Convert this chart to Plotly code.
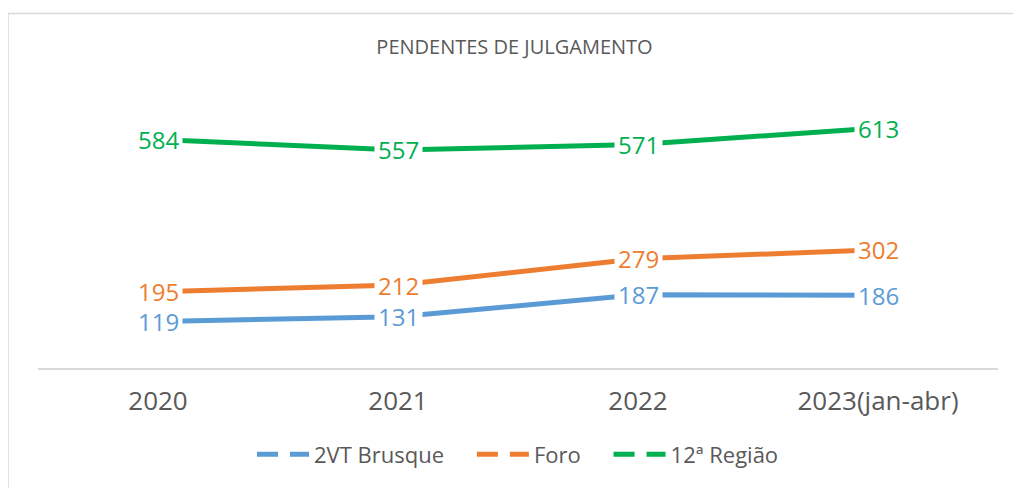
import plotly.graph_objects as go

categories = ["2020", "2021", "2022", "2023(jan-abr)"]
brusque = [119, 131, 187, 186]
foro = [195, 212, 279, 302]
regiao = [584, 557, 571, 613]

series_names = ["2VT Brusque", "Foro", "12ª Região"]
series_values = [brusque, foro, regiao]
series_colors = ["#5B9BD5", "#ED7D31", "#00B050"]

FONT = "Open Sans"
GRAY = "#595959"
NBSP = "\u00a0"

W, H = 1013, 480
L, R, T, B = 30, 23, 86, 118
PW, PH = W - L - R, H - T - B

fig = go.Figure()

for k, (name, vals, col) in enumerate(zip(series_names, series_values, series_colors)):
    fig.add_trace(go.Scatter(x=categories, y=vals, mode="lines", name=name,
                             line=dict(color=col, width=5), showlegend=False,
                             hoverinfo="x+y"))
    pad = NBSP * 4 if k < len(series_names) - 1 else ""
    fig.add_trace(go.Scatter(x=[None], y=[None], mode="lines", name=name + pad,
                             line=dict(color=col, width=5, dash="21px,12px"),
                             showlegend=True))

annotations = []
for vals, col in zip(series_values, series_colors):
    for i, v in enumerate(vals):
        annotations.append(dict(x=i, y=v, xref="x", yref="y", text=str(v),
                                showarrow=False, bgcolor="white", borderpad=3,
                                font=dict(family=FONT, size=24, color=col)))

fig.update_layout(
    width=W, height=H,
    margin=dict(l=L, r=R, t=T, b=B),
    paper_bgcolor="white", plot_bgcolor="white",
    title=dict(text="PENDENTES DE JULGAMENTO", x=0.5, xanchor="center",
               y=1 - 39 / H, yanchor="middle",
               font=dict(family=FONT, size=20, color=GRAY)),
    xaxis=dict(type="category", range=[-0.5, 3.5], showgrid=False, zeroline=False,
               showline=True, linecolor="#D9D9D9", linewidth=1.5, ticks="",
               ticklabelstandoff=9,
               tickfont=dict(family=FONT, size=26, color=GRAY)),
    yaxis=dict(range=[0, 700], visible=False, showgrid=False, zeroline=False),
    legend=dict(orientation="h", x=0.5, xanchor="center", y=-(449 - (H - B)) / PH,
                yanchor="middle",
                font=dict(family=FONT, size=22, color=GRAY), itemwidth=52,
                traceorder="normal"),
    annotations=annotations,
    shapes=[dict(type="rect", xref="paper", yref="paper",
                 x0=(0 - L) / PW, x1=1.2, y0=-0.8, y1=((H - B) - 5) / PH,
                 line=dict(color="#D9D9D9", width=1.5), fillcolor="rgba(0,0,0,0)",
                 layer="below")],
)

fig.write_html("out.html")
